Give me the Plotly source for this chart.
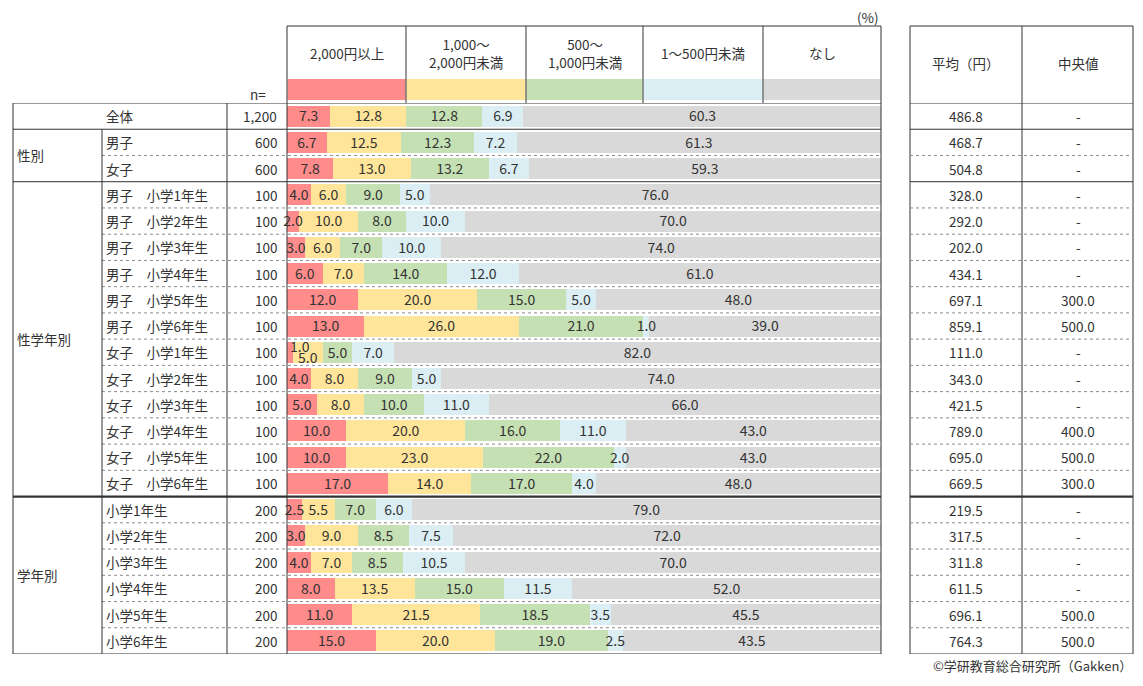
import plotly.graph_objects as go

W, H = 1143, 686
OFF = 8  # page body margin of the html page
FW, FH = W - 2 * OFF, H - 2 * OFF - 2

# Data
rows = ["全体", "男子", "女子",
        "男子　小学1年生", "男子　小学2年生", "男子　小学3年生", "男子　小学4年生", "男子　小学5年生", "男子　小学6年生",
        "女子　小学1年生", "女子　小学2年生", "女子　小学3年生", "女子　小学4年生", "女子　小学5年生", "女子　小学6年生",
        "小学1年生", "小学2年生", "小学3年生", "小学4年生", "小学5年生", "小学6年生"]
groups = ["", "性別", "性別"] + ["性学年別"] * 12 + ["学年別"] * 6
n_values = ["1,200", "600", "600"] + ["100"] * 12 + ["200"] * 6

categories = ["2,000円以上", "1,000～<br>2,000円未満", "500～<br>1,000円未満", "1～500円未満", "なし"]
over2000 = [7.3, 6.7, 7.8, 4.0, 2.0, 3.0, 6.0, 12.0, 13.0, 1.0, 4.0, 5.0, 10.0, 10.0, 17.0, 2.5, 3.0, 4.0, 8.0, 11.0, 15.0]
r1000_2000 = [12.8, 12.5, 13.0, 6.0, 10.0, 6.0, 7.0, 20.0, 26.0, 5.0, 8.0, 8.0, 20.0, 23.0, 14.0, 5.5, 9.0, 7.0, 13.5, 21.5, 20.0]
r500_1000 = [12.8, 12.3, 13.2, 9.0, 8.0, 7.0, 14.0, 15.0, 21.0, 5.0, 9.0, 10.0, 16.0, 22.0, 17.0, 7.0, 8.5, 8.5, 15.0, 18.5, 19.0]
r1_500 = [6.9, 7.2, 6.7, 5.0, 10.0, 10.0, 12.0, 5.0, 1.0, 7.0, 5.0, 11.0, 11.0, 2.0, 4.0, 6.0, 7.5, 10.5, 11.5, 3.5, 2.5]
none = [60.3, 61.3, 59.3, 76.0, 70.0, 74.0, 61.0, 48.0, 39.0, 82.0, 74.0, 66.0, 43.0, 43.0, 48.0, 79.0, 72.0, 70.0, 52.0, 45.5, 43.5]
mean_yen = ["486.8", "468.7", "504.8", "328.0", "292.0", "202.0", "434.1", "697.1", "859.1",
            "111.0", "343.0", "421.5", "789.0", "695.0", "669.5",
            "219.5", "317.5", "311.8", "611.5", "696.1", "764.3"]
median_yen = ["-"] * 7 + ["300.0", "500.0", "-", "-", "-", "400.0", "500.0", "300.0",
                          "-", "-", "-", "-", "500.0", "500.0"]

series = [over2000, r1000_2000, r500_1000, r1_500, none]
colors = ["#FF8B8B", "#FFE599", "#C5E0B3", "#DAEEF3", "#D9D9D9"]

FONT = "Noto Sans CJK JP, Meiryo, sans-serif"
TXT = "#333333"
CROWDED = 9  # row where the first two labels are stacked
LABEL_DROP = 0.07  # labels sit a touch below the bar centre, like in Excel


def px(x):
    return (x - OFF) / FW


def py(y):
    return 1 - (y - OFF) / FH


idx = list(range(len(rows)))

fig = go.Figure()
for vals, col, name in zip(series, colors, categories):
    fig.add_trace(go.Bar(
        y=idx, x=vals, orientation="h", name=name,
        marker=dict(color=col, line=dict(width=0)),
        width=0.8, hoverinfo="skip",
    ))

# value labels drawn on top of all bars (centre of each segment)
lx, ly, lt, lp = [], [], [], []
for i in idx:
    base = 0.0
    for k, vals in enumerate(series):
        v = vals[i]
        lx.append(base + v / 2)
        lt.append(f"{v:.1f}")
        if i == CROWDED and k == 0:
            lp.append("top right")
            ly.append(i + 0.12)
        elif i == CROWDED and k == 1:
            lp.append("bottom center")
            ly.append(i)
        else:
            lp.append("middle center")
            ly.append(i + LABEL_DROP)
        base += v
fig.add_trace(go.Scatter(
    x=lx, y=ly, text=lt, mode="text", textposition=lp,
    textfont=dict(size=14, color=TXT, family=FONT),
    hoverinfo="skip", cliponaxis=False,
))

shapes = []
annotations = []


def line(x0, y0, x1, y1, yref="paper", dash="solid", width=1, color="#333333"):
    shapes.append(dict(type="line", x0=x0, y0=y0, x1=x1, y1=y1, xref="paper", yref=yref,
                       line=dict(color=color, width=width, dash=dash)))


def text(x, y, s, xanchor="center", yref="paper", size=13.5, yanchor="middle"):
    annotations.append(dict(x=x, y=y, text=s, xref="paper", yref=yref, showarrow=False,
                            xanchor=xanchor, yanchor=yanchor, borderpad=0,
                            font=dict(size=size, color=TXT, family=FONT)))


# header of legend columns
col_edges = [287, 406, 526, 643, 763, 881]
line(px(287), py(26), px(881), py(26))
for xe in col_edges:
    line(px(xe), py(26), px(xe), py(103))
for i, (cat, col) in enumerate(zip(categories, colors)):
    x0, x1 = col_edges[i], col_edges[i + 1]
    shapes.append(dict(type="rect", xref="paper", yref="paper", x0=px(x0 + 0.5), x1=px(x1 - 0.5),
                       y0=py(100), y1=py(79), fillcolor=col, line=dict(width=0), layer="below"))
    text(px((x0 + x1) / 2), py(53), cat)
text(px(880), py(17), "(%)", xanchor="right")
text(px(258), py(94), "n=")

# right table frame
line(px(910), py(26), px(1133), py(26))
line(px(910), py(26), px(910), py(654))
line(px(1022), py(26), px(1022), py(654))
line(px(1133), py(26), px(1133), py(654))
text(px(966), py(63), "平均（円）")
text(px(1078), py(63), "中央値")

# horizontal row lines
solid_after = {0, 2}
for yb in (-0.5, 20.5):
    line(px(13), yb, px(881), yb, yref="y")
    line(px(910), yb, px(1133), yb, yref="y")
for i in range(len(rows) - 1):
    b = i + 0.5
    if i in solid_after:
        line(px(13), b, px(881), b, yref="y")
        line(px(910), b, px(1133), b, yref="y")
    elif i == 14:
        line(px(13), b, px(881), b, yref="y", width=2.2)
        line(px(910), b, px(1133), b, yref="y", width=2.2)
    else:
        line(px(102), b, px(881), b, yref="y", dash="dot", color="#8c8c8c")
        line(px(910), b, px(1133), b, yref="y", dash="dot", color="#8c8c8c")

# vertical lines of left table
line(px(13), py(103), px(13), py(654))
line(px(102), 0.5, px(102), 20.5, yref="y")
line(px(227), py(103), px(227), py(654))
line(px(287), py(103), px(287), py(654))
line(px(881), py(103), px(881), py(654))

# row texts
for i, r in enumerate(rows):
    if i == 0:
        text(px(120), i, r, yref="y")
    else:
        text(px(105), i, r, xanchor="left", yref="y")
    text(px(278), i, n_values[i], xanchor="right", yref="y")
    text(px(966), i, mean_yen[i], yref="y")
    text(px(1078), i, median_yen[i], yref="y")

# group labels
for g in ["性別", "性学年別", "学年別"]:
    members = [i for i, gg in enumerate(groups) if gg == g]
    text(px(16), (members[0] + members[-1]) / 2, g, xanchor="left", yref="y")

text(px(1133), py(675.5), "©学研教育総合研究所（Gakken）", xanchor="right", yanchor="bottom", size=13)

fig.update_layout(
    barmode="stack",
    width=FW, height=FH,
    margin=dict(l=0, r=0, t=0, b=0),
    paper_bgcolor="white", plot_bgcolor="white",
    showlegend=False,
    bargap=0,
    xaxis=dict(domain=[px(287), px(881)], range=[0, 100], visible=False, fixedrange=True),
    yaxis=dict(domain=[py(654), py(103)], range=[20.5, -0.5], visible=False, fixedrange=True),
    shapes=shapes,
    annotations=annotations,
    font=dict(family=FONT, color=TXT),
)

fig.write_html("out.html", config={"displayModeBar": False})
